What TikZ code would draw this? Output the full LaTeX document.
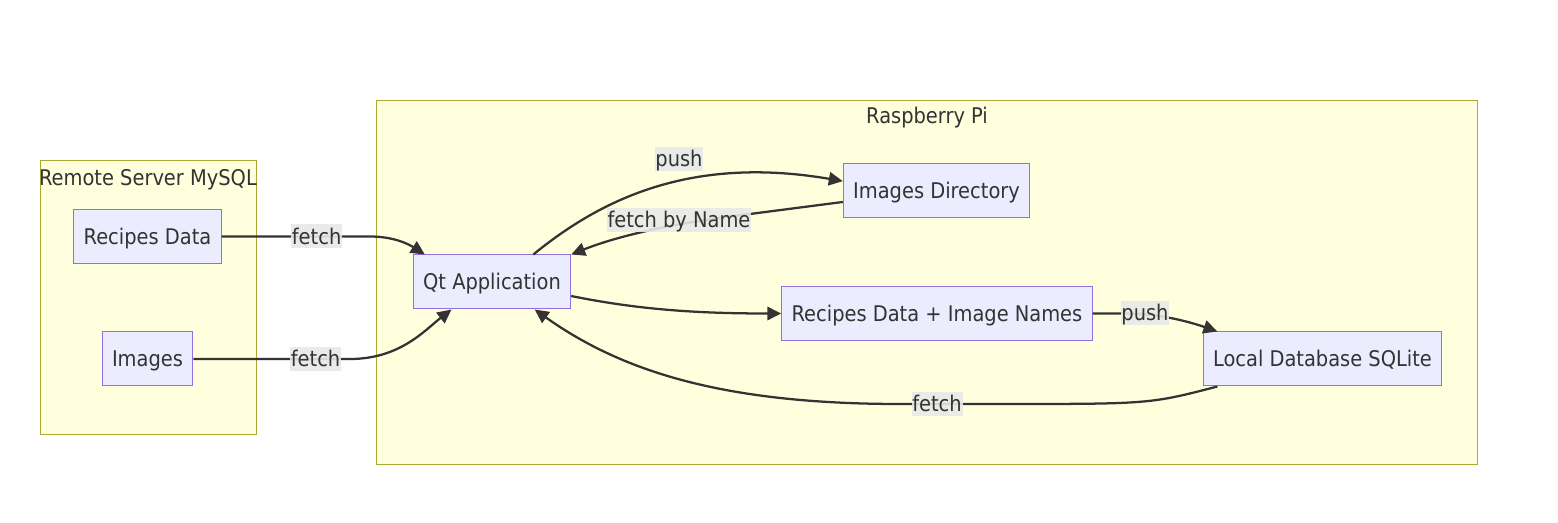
\documentclass[tikz,border=0pt]{standalone}
\usepackage{fontspec}
\setmainfont{DejaVu Sans Condensed}
\usetikzlibrary{arrows.meta}
\definecolor{clusterfill}{HTML}{FFFFDE}
\definecolor{clusterline}{HTML}{AAAA33}
\definecolor{nodefill}{HTML}{ECECFF}
\definecolor{nodeline}{HTML}{9370DB}
\definecolor{linkcol}{HTML}{333333}
\definecolor{lblbg}{HTML}{E8E8E8}

\begin{document}
\begin{tikzpicture}[x=0.75pt,y=-0.75pt,
  every node/.style={text=linkcol, font=\fontsize{16.2}{19}\selectfont, text height=15pt, text depth=3.2pt},
  cluster/.style={draw=clusterline, fill=clusterfill, line width=0.75pt},
  box/.style={draw=nodeline, fill=nodefill, line width=0.75pt, minimum height=40.5pt, inner xsep=7.4pt},
  lbl/.style={fill=lblbg, fill opacity=0.9, text opacity=1, inner xsep=0.6pt, inner ysep=1.4pt, text height=13.5pt, text depth=1.7pt},
  link/.style={draw=linkcol, line width=1.7pt, -{Triangle[length=10.5pt,width=10pt]}}]
  \useasboundingbox (0,0) rectangle (1558,523);
  % subgraphs
  \draw[cluster] (40,161) rectangle (256,434);
  \node (remote) at (148,178) {Remote Server MySQL};
  \draw[cluster] (376,101) rectangle (1477,464);
  \node (pi) at (927,116) {Raspberry Pi};
  % nodes
  \node[box] (rd) at (147.5,236.5) {Recipes Data};
  \node[box] (im) at (147.5,359) {Images};
  \node[box] (qt) at (492,282) {Qt Application};
  \node[box] (idir) at (936.5,190.5) {Images Directory};
  \node[box] (rn) at (937,313.5) {Recipes Data + Image Names};
  \node[box] (ldb) at (1322.5,359) {Local Database SQLite};
  % links
  \draw[link] (rd.east) -- node[lbl,pos=0.64]{fetch} (370,236.5)
    .. controls (395,236.5) and (410,245) .. ([xshift=9pt]qt.north west);
  \draw[link] (im.east) -- node[lbl,pos=0.78]{fetch} (350,359)
    .. controls (400,359) and (425,330) .. ([xshift=29pt]qt.south west);
  \draw[link] ([xshift=31pt]qt.north) .. controls (600,200) and (690,155) .. ([yshift=7pt]idir.west)
    node[lbl] at (679,159) {push};
  \draw[link] ([yshift=-8.6pt]idir.west) -- (750,214)
    .. controls (680,222) and (620,235) .. (qt.north east)
    node[lbl] at (679,220) {fetch by Name};
  \draw[link] ([yshift=-10.5pt]qt.east) .. controls (640,310) and (700,313.5) .. (rn.west);
  \draw[link] (rn.east) -- (1125,313.5) .. controls (1160,313.5) and (1190,322) .. ([xshift=11pt]ldb.north west)
    node[lbl] at (1145,313) {push};
  \draw[link] ([xshift=11pt]ldb.south west) .. controls (1150,404) .. (1000,404) -- (900,404)
    .. controls (720,404) and (620,370) .. ([xshift=32pt]qt.south)
    node[lbl] at (937,404) {fetch};
\end{tikzpicture}
\end{document}
